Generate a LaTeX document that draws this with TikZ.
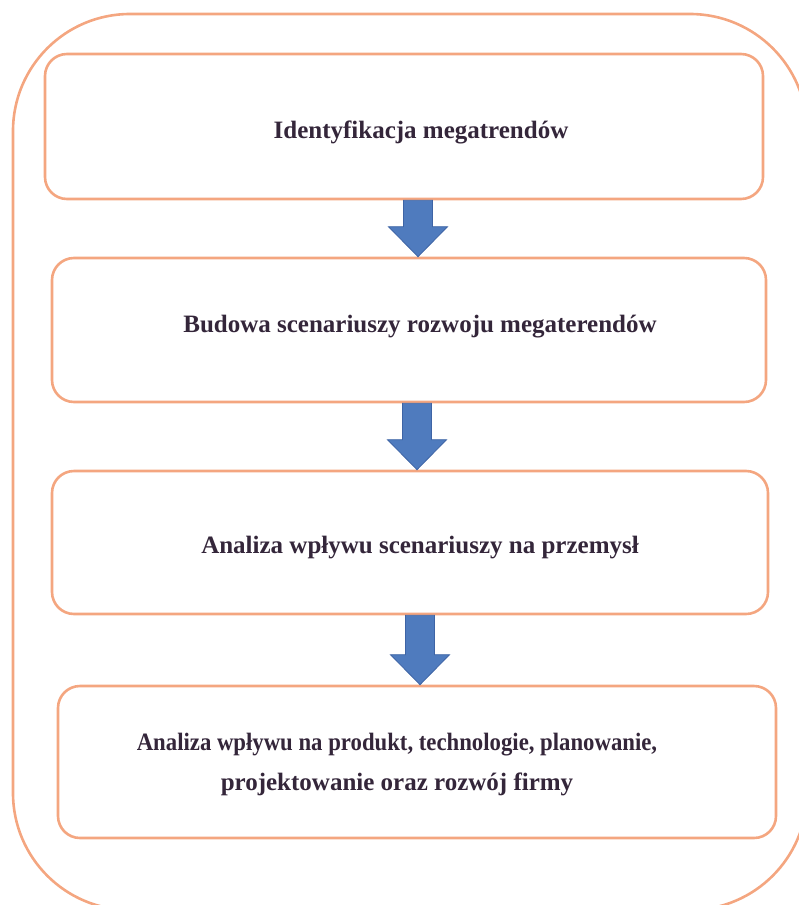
\documentclass[tikz,border=0pt]{standalone}
\usepackage{fontspec}
\setmainfont{Liberation Serif}
\usepackage{tikz}
\usetikzlibrary{calc, positioning}

\definecolor{frameorange}{RGB}{244,166,128}
\definecolor{arrowblue}{RGB}{79,123,190}
\definecolor{arrowedge}{RGB}{62,100,165}
\definecolor{textdark}{RGB}{52,38,58}

\tikzset{
	stagebox/.style={draw=frameorange, line width=2.6pt, rounded corners=22pt, fill=white, inner sep=0pt},
	stagetext/.style={text=textdark, font=\bfseries\fontsize{25}{40}\selectfont, align=center, inner sep=0pt},
	blockarrow/.style={fill=arrowblue, draw=arrowedge, line width=0.8pt, line join=miter}
}

% block arrow between two coordinates (shaft top, tip)
\newcommand{\blockarrow}[2]{%
	\draw[blockarrow] let \p1=(#1), \p2=(#2) in
		(\x1-14.5pt,\y1) -- (\x1+14.5pt,\y1) -- (\x1+14.5pt,\y2-30pt) -- (\x1+29.5pt,\y2-30pt)
		-- (\x1,\y2) -- (\x1-29.5pt,\y2-30pt) -- (\x1-14.5pt,\y2-30pt) -- cycle;
}

\begin{document}
\begin{tikzpicture}[x=1pt,y=1pt,yscale=-1]
	\useasboundingbox (0,0) rectangle (799,905);
	\begin{scope}
		\clip (0,0) rectangle (799,905);
		%outer frame
		\draw [draw=frameorange, line width=2.6pt, rounded corners=117pt] (13,14) rectangle (807,910);
	\end{scope}

	%stages
	\node [stagebox, minimum width=718pt, minimum height=145pt] (box1) at (404,126.5) {};
	\node [stagebox, minimum width=714pt, minimum height=144pt] (box2) at (409,330) {};
	\node [stagebox, minimum width=716pt, minimum height=143pt] (box3) at (410,542.5) {};
	\node [stagebox, minimum width=718pt, minimum height=152pt] (box4) at (417,762) {};

	% Text Node
	\node [stagetext] (txt1) at (421,132) {Identyfikacja megatrendów};
	% Text Node
	\node [stagetext] (txt2) at (420,327) {Budowa scenariuszy rozwoju megaterendów};
	% Text Node
	\node [stagetext] (txt3) at (420,548) {Analiza wpływu scenariuszy na przemysł};
	% Text Node
	\node [stagetext] (txt4) at (397,765) {{\addfontfeatures{FakeStretch=0.91}Analiza wpływu na produkt, technologie, planowanie,}\\projektowanie oraz rozwój firmy};

	%arrows
	\path (box1.south) ++(14,0) coordinate (a1top);
	\path (box2.north) ++(9,0) coordinate (a1tip);
	\path (box2.south) ++(8,0) coordinate (a2top);
	\path (box3.north) ++(7,0) coordinate (a2tip);
	\path (box3.south) ++(10,0) coordinate (a3top);
	\path (box4.north) ++(3,0) coordinate (a3tip);
	\blockarrow{a1top}{a1tip}
	\blockarrow{a2top}{a2tip}
	\blockarrow{a3top}{a3tip}
\end{tikzpicture}
\end{document}
